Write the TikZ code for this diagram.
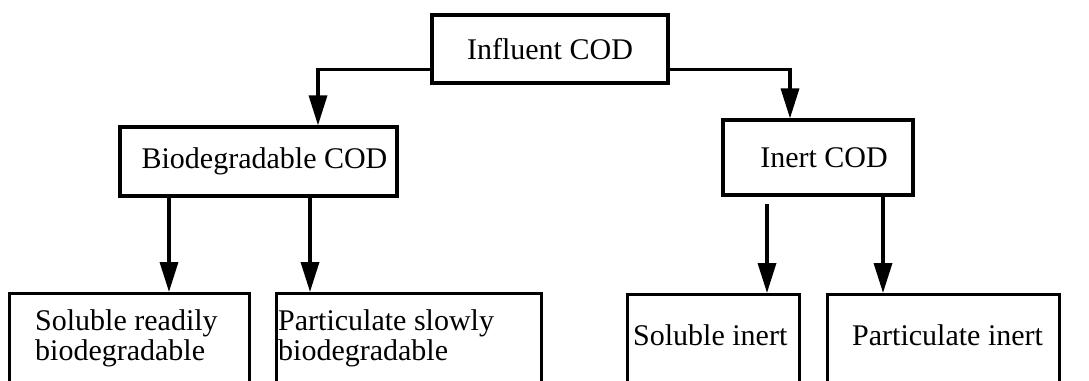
\documentclass[tikz,border=0pt]{standalone}
\usepackage{fontspec}
\setmainfont{Liberation Serif}
\usetikzlibrary{arrows.meta}
\tikzset{
  box/.style={draw, line width=3.2pt, rectangle, inner sep=0pt, font=\fontsize{30}{30}\selectfont},
  lbl/.style={inner sep=0pt, font=\fontsize{30}{30}\selectfont, align=left},
  arr/.style={line width=3.4pt, -{Triangle[length=30pt,width=18pt]}},
}
\begin{document}
\begin{tikzpicture}[x=1pt,y=-1pt]
\clip (0,0) rectangle (1089,380);
\fill[white] (0,0) rectangle (1089,380);
% top level
\node[box, minimum width=236pt, minimum height=68pt] (infl) at (550,49) {Influent COD};
\node[box, minimum width=277pt, minimum height=69pt] (bio) at (258.5,161.5) {\hspace*{12pt}Biodegradable COD};
\node[box, minimum width=190pt, minimum height=75pt] (inert) at (818,157.5) {\hspace*{12pt}Inert COD};
% bottom level
\node[box, minimum width=240pt, minimum height=120pt, anchor=north west] (sr) at (8,292) {};
\node[box, minimum width=265pt, minimum height=120pt, anchor=north west] (ps) at (275,292) {};
\node[box, minimum width=172pt, minimum height=120pt, anchor=north west] (si) at (626,293) {};
\node[box, minimum width=232pt, minimum height=120pt, anchor=north west] (pi) at (826,293) {};
\node[lbl, anchor=north west] (srt) at (35,309) {Soluble readily\\biodegradable};
\node[lbl, anchor=north west] (pst) at (278,309) {Particulate slowly\\biodegradable};
\node[lbl, anchor=base west] (sit) at (633,345) {Soluble inert};
\node[lbl, anchor=base west] (pit) at (852,345) {Particulate inert};
% connectors
\draw[arr] ([yshift=15pt]infl.south west) -| ([xshift=59.5pt]bio.north);
\draw[arr] ([yshift=15pt]infl.south east) -| ([xshift=-28pt]inert.north);
\draw[arr] ([xshift=-89.5pt]bio.south) -- ([xshift=-89.5pt]bio.south |- sr.north);
\draw[arr] ([xshift=51.5pt]bio.south) -- ([xshift=51.5pt]bio.south |- ps.north);
\draw[arr, shorten <=7pt] ([xshift=-51pt]inert.south) -- ([xshift=-51pt]inert.south |- si.north);
\draw[arr] ([xshift=65pt]inert.south) -- ([xshift=65pt]inert.south |- pi.north);
\end{tikzpicture}
\end{document}
